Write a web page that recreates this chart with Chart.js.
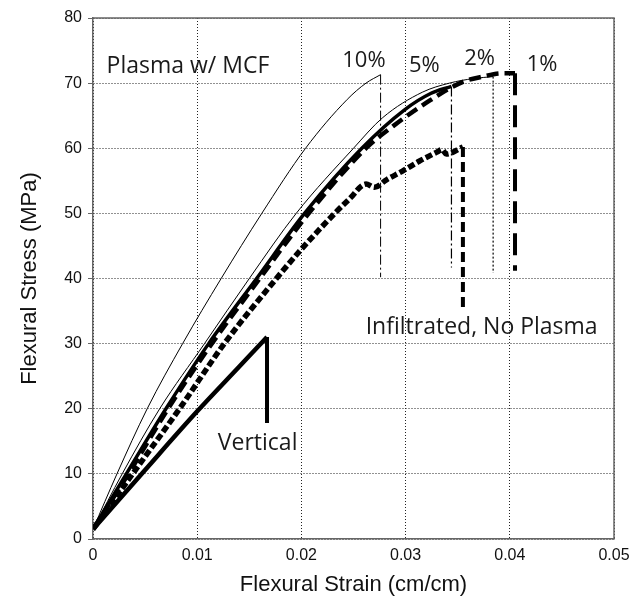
<!DOCTYPE html>
<html>
<head>
<meta charset="utf-8">
<script src="https://cdn.jsdelivr.net/npm/chart.js@4/dist/chart.umd.min.js"></script>
<style>
  html, body { margin: 0; padding: 0; background: #fff; }
  canvas { display: block; }
</style>
</head>
<body>
<canvas id="c" width="644" height="599"></canvas>
<script>
// ---- data (strain in cm/cm, stress in MPa) ----
const xTickLabels = ['0', '0.01', '0.02', '0.03', '0.04', '0.05'];
const yTickLabels = ['0', '10', '20', '30', '40', '50', '60', '70', '80'];

const strain10 = [0, 0.0023, 0.0052, 0.0086, 0.0123, 0.0162, 0.0204, 0.0244, 0.0262, 0.0276];
const stress10 = [1.5, 10, 20, 30, 40, 50, 60, 67.5, 70, 71.3];
const fail10 = 40.2;

const strain2 = [0, 0.0028, 0.0064, 0.0107, 0.0150, 0.0195, 0.0250, 0.0278, 0.0316, 0.0342, 0.0365, 0.0384];
const stress2 = [1.5, 10, 20, 30, 40, 50, 60, 64.7, 68.6, 70, 70.7, 71.0];
const fail2 = 40.9;

const strain5 = [0, 0.0032, 0.0070, 0.0111, 0.0157, 0.0203, 0.0258, 0.0299, 0.0324, 0.0344];
const stress5 = [1.5, 10, 20, 30, 40, 50, 60, 65.9, 68.4, 69.5];
const fail5 = 41.7;

const strain1 = [0, 0.0034, 0.0072, 0.0114, 0.0160, 0.0207, 0.0262, 0.0288, 0.0320, 0.0355, 0.0374, 0.0392, 0.0405];
const stress1 = [1.5, 10, 20, 30, 40, 50, 60, 63.4, 67, 70.2, 71, 71.5, 71.5];
const fail1 = 41.2;

const strainInf = [0, 0.0038, 0.0083, 0.0126, 0.0176, 0.0200, 0.0232, 0.0246, 0.0262, 0.0270, 0.0282, 0.0297, 0.0313, 0.0330, 0.0335, 0.0339, 0.0355];
const stressInf = [1.5, 10, 20, 30, 40, 44.5, 50, 52.2, 54.5, 54, 55.2, 56.5, 58, 59.4, 59.8, 59.1, 60.2];
const failInf = 35.5;

const strainVert = [0, 0.0050, 0.0100, 0.0140, 0.0167];
const stressVert = [1.5, 10.6, 19.6, 26.4, 31];
const failVert = 17.8;

// ---- helpers ----
const pts = (xs, ys) => xs.map((x, i) => ({ x: x, y: ys[i] }));
const drop = (xs, ys, f) => [{ x: xs[xs.length - 1], y: ys[ys.length - 1] }, { x: xs[xs.length - 1], y: f }];

function curve(data, width, dash, color) {
  return { data: data, showLine: true, borderColor: color || '#000', borderWidth: width,
           borderDash: dash || [], pointRadius: 0, cubicInterpolationMode: 'monotone',
           borderCapStyle: 'butt', borderJoinStyle: 'round', fill: false };
}
function dropLine(data, width, dash) {
  return { data: data, showLine: true, borderColor: '#000', borderWidth: width,
           borderDash: dash || [], pointRadius: 0, tension: 0, borderCapStyle: 'butt', fill: false };
}

const datasets = [
  curve(pts(strain10, stress10), 1, []),
  dropLine(drop(strain10, stress10, fail10), 1, [10, 3, 2, 3]),
  curve(pts(strain2, stress2), 1, []),
  dropLine(drop(strain2, stress2, fail2), 1.2, [2, 2]),
  curve(pts(strain5, stress5), 3.5, []),
  curve(pts(strain5, stress5), 1.6, [], '#fff'),
  dropLine(drop(strain5, stress5, fail5), 1.2, [10, 3, 2, 3]),
  curve(pts(strain1, stress1), 4.5, [12, 6]),
  dropLine(drop(strain1, stress1, fail1), 4, [22, 10]),
  curve(pts(strainInf, stressInf), 5.5, [7, 3]),
  dropLine(drop(strainInf, stressInf, failInf), 4, [10, 5]),
  curve(pts(strainVert, stressVert), 4.5, []),
  dropLine(drop(strainVert, stressVert, failVert), 4, [])
];

const labels = [
  { text: 'Plasma w/ MCF', x: 0.0013, y: 72.5, align: 'left', size: 23 },
  { text: '10%', x: 0.0260, y: 73.4, align: 'center', size: 22 },
  { text: '5%', x: 0.0318, y: 72.6, align: 'center', size: 22 },
  { text: '2%', x: 0.0371, y: 73.7, align: 'center', size: 22 },
  { text: '1%', x: 0.0431, y: 72.9, align: 'center', size: 22 },
  { text: 'Infiltrated, No Plasma', x: 0.0373, y: 32.5, align: 'center', size: 23 },
  { text: 'Vertical', x: 0.0158, y: 14.6, align: 'center', size: 23 }
];

const framePlugin = {
  id: 'frame',
  afterDatasetsDraw(chart) {
    const { ctx, chartArea: a, scales } = chart;
    ctx.save();
    ctx.strokeStyle = '#666';
    ctx.lineWidth = 1.5;
    ctx.beginPath();
    ctx.moveTo(a.left, a.top); ctx.lineTo(a.right, a.top); ctx.lineTo(a.right, a.bottom);
    ctx.stroke();
    ctx.fillStyle = '#1a1a1a';
    ctx.textBaseline = 'middle';
    labels.forEach(l => {
      ctx.font = l.size + 'px "Open Sans"';
      ctx.textAlign = l.align;
      ctx.fillText(l.text, scales.x.getPixelForValue(l.x), scales.y.getPixelForValue(l.y));
    });
    ctx.restore();
  }
};

new Chart(document.getElementById('c'), {
  type: 'scatter',
  data: { datasets: datasets },
  plugins: [framePlugin],
  options: {
    responsive: false,
    animation: false,
    layout: { padding: { left: 0, right: 30, top: 18, bottom: 0 } },
    plugins: { legend: { display: false }, tooltip: { enabled: false } },
    scales: {
      x: {
        type: 'linear', min: 0, max: 0.05,
        afterBuildTicks: s => { s.ticks = xTickLabels.map(t => ({ value: parseFloat(t) })); },
        ticks: { callback: (v, i) => xTickLabels[i], color: '#111',
                 font: { family: '"Liberation Sans", Arial, sans-serif', size: 16 }, padding: 7, maxRotation: 0 },
        grid: { color: '#222', lineWidth: 1, drawTicks: false },
        border: { display: true, color: '#666', width: 1.5, dash: [1, 2] },
        title: { display: true, text: 'Flexural Strain (cm/cm)', color: '#111',
                 font: { family: '"Liberation Sans", Arial, sans-serif', size: 22 }, padding: { top: 0, bottom: 1 } },
        afterFit: s => { s.height = 60; }
      },
      y: {
        type: 'linear', min: 0, max: 80,
        afterBuildTicks: s => { s.ticks = yTickLabels.map(t => ({ value: parseFloat(t) })); },
        ticks: { callback: (v, i) => yTickLabels[i], color: '#111',
                 font: { family: '"Liberation Sans", Arial, sans-serif', size: 16 }, padding: 6 },
        grid: { color: '#222', lineWidth: 1, tickLength: 5, tickColor: '#666', tickWidth: 1 },
        border: { display: true, color: '#666', width: 1.5, dash: [1, 2] },
        title: { display: true, text: 'Flexural Stress (MPa)', color: '#111',
                 font: { family: '"Liberation Sans", Arial, sans-serif', size: 22 }, padding: { top: 17, bottom: 0 } },
        afterFit: s => { s.width = 93; }
      }
    }
  }
});
</script>
</body>
</html>
